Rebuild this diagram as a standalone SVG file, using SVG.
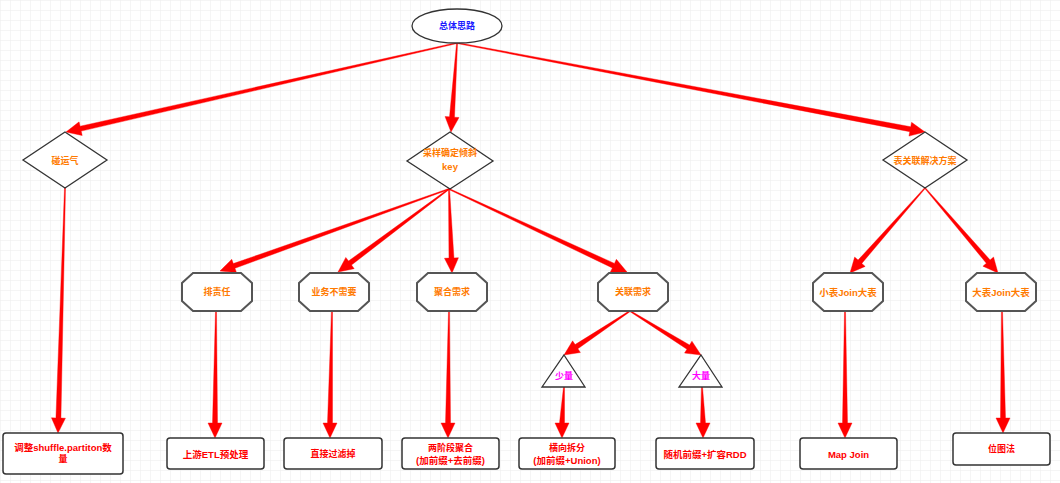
<svg xmlns="http://www.w3.org/2000/svg" xmlns:xlink="http://www.w3.org/1999/xlink" width="1060" height="483" viewBox="0 0 1060 483">
<defs>
<pattern id="grid" width="10" height="10" patternUnits="userSpaceOnUse">
<path d="M10 0 H0 V10" fill="none" stroke="#ececec" stroke-width="1"/>
</pattern>
<polygon id="oct" points="11,0 59,0 70,10 70,28 59,38 11,38 0,28 0,10"/>
</defs>
<style>
text{font-family:"Liberation Sans","Noto Sans CJK SC",sans-serif;font-size:9px;font-weight:bold;text-anchor:middle;dominant-baseline:central}
text.lat{font-size:9.5px}
.shape{fill:#fff;stroke:#333;stroke-width:1.3}
.octs{fill:#fff;stroke:#555;stroke-width:2}
.box{fill:#fff;stroke:#333;stroke-width:1.5}
.blue{fill:#1a1aff}
.org{fill:#ff7a00}
.mag{fill:#ff00ff}
.red{fill:#ff0000}
.conn polygon{fill:#ff0000;stroke:#ff0000;stroke-width:0.4;stroke-linejoin:round}
</style>
<rect width="1060" height="483" fill="#fff"/>
<rect width="1060" height="483" fill="url(#grid)"/>

<g id="connectors" class="conn">
<polygon points="456.89,42.51 80.08,126.23 79.08,121.84 66,132 82.18,135.50 81.18,131.11 457.11,43.49"/>
<polygon points="456.50,43.97 449.53,116.86 445.04,116.55 451,132 459.00,117.51 454.51,117.20 457.50,44.03"/>
<polygon points="456.91,43.49 909.79,131.66 908.95,136.08 925,132 911.57,122.32 910.73,126.74 457.09,42.51"/>
<polygon points="64.50,187.99 55.93,417.94 51.43,417.81 58,433 65.43,418.21 60.93,418.08 65.50,188.01"/>
<polygon points="448.83,188.53 233.28,263.59 231.76,259.35 220,271 236.48,272.53 234.96,268.29 449.17,189.47"/>
<polygon points="448.70,188.60 348.51,261.02 345.82,257.41 338,272 354.20,268.63 351.51,265.02 449.30,189.40"/>
<polygon points="448.50,189.02 448.96,258.10 444.46,258.26 452,273 458.46,257.76 453.96,257.92 449.50,188.98"/>
<polygon points="448.79,189.45 612.35,267.93 610.45,272.00 627,272 616.37,259.32 614.47,263.39 449.21,188.55"/>
<polygon points="924.63,187.67 858.05,260.10 854.67,257.12 850,273 865.17,266.38 861.79,263.40 925.37,188.33"/>
<polygon points="924.62,188.33 986.33,263.25 982.92,266.18 998,273 993.54,257.06 990.13,259.99 925.38,187.67"/>
<polygon points="215.5,311 212.5,423 208,423 215,438 222,423 217.5,423 216.5,311"/>
<polygon points="331.5,311 327.5,423 323,423 330,438 337,423 332.5,423 332.5,311"/>
<polygon points="448.5,311 445.5,423 441,423 448,438 455,423 450.5,423 449.5,311"/>
<polygon points="629.72,310.58 575.09,344.60 572.60,340.86 564,355 580.36,352.50 577.87,348.76 630.28,311.42"/>
<polygon points="629.74,311.43 686.93,349.23 684.56,353.05 701,355 691.94,341.15 689.57,344.98 630.26,310.58"/>
<polygon points="563.5,387 559.5,423 555,423 562,438 569,423 564.5,423 564.5,387"/>
<polygon points="701.5,387 700.5,423 696,423 703,438 710,423 705.5,423 702.5,387"/>
<polygon points="844.5,311 842.5,423 838,423 845,438 852,423 847.5,423 845.5,311"/>
<polygon points="1001.5,311 1000.5,418 996,418 1003,433 1010,418 1005.5,418 1002.5,311"/>
</g>

<g id="n-root">
<ellipse class="shape" cx="457" cy="26" rx="45" ry="17"/>
<text class="blue" x="457" y="26">总体思路</text>
</g>
<g id="n-luck">
<polygon class="shape" points="65,132 107,160 65,188 23,160"/>
<text class="org" x="65" y="161">碰运气</text>
</g>
<g id="n-sample">
<polygon class="shape" points="450,132 493,161 450,189 407,161"/>
<text class="org" x="450" y="153">采样确定倾斜</text>
<text class="org lat" x="450" y="166">key</text>
</g>
<g id="n-join">
<polygon class="shape" points="925,132 967,160 925,188 883,160"/>
<text class="org" x="925" y="161">表关联解决方案</text>
</g>

<g id="n-blame">
<use href="#oct" class="octs" x="182" y="273"/>
<text class="org" x="217" y="292">排责任</text>
</g>
<g id="n-nobiz">
<use href="#oct" class="octs" x="299" y="273"/>
<text class="org" x="334" y="292">业务不需要</text>
</g>
<g id="n-agg">
<use href="#oct" class="octs" x="417" y="273"/>
<text class="org" x="452" y="292">聚合需求</text>
</g>
<g id="n-rel">
<use href="#oct" class="octs" x="598" y="273"/>
<text class="org" x="633" y="292">关联需求</text>
</g>
<g id="n-smallbig">
<use href="#oct" class="octs" x="813" y="273"/>
<text class="org lat" x="848" y="292">小表Join大表</text>
</g>
<g id="n-bigbig">
<use href="#oct" class="octs" x="966" y="273"/>
<text class="org lat" x="1001" y="292">大表Join大表</text>
</g>

<g id="n-few">
<polygon class="shape" points="564,355 585,387 542,387"/>
<text class="mag" x="564" y="376">少量</text>
</g>
<g id="n-many">
<polygon class="shape" points="701,355 722,387 679,387"/>
<text class="mag" x="701" y="376">大量</text>
</g>

<g id="n-shuffle">
<rect class="box" x="3" y="433" width="120" height="41" rx="3"/>
<text class="red lat" x="63" y="447">调整shuffle.partiton数</text>
<text class="red" x="63" y="459">量</text>
</g>
<g id="n-etl">
<rect class="box" x="167" y="438" width="97" height="31" rx="3"/>
<text class="red lat" x="215.5" y="454">上游ETL预处理</text>
</g>
<g id="n-filter">
<rect class="box" x="284" y="438" width="98" height="31" rx="3"/>
<text class="red" x="333" y="454">直接过滤掉</text>
</g>
<g id="n-twostage">
<rect class="box" x="402" y="438" width="97" height="31" rx="3"/>
<text class="red" x="450.5" y="448">两阶段聚合</text>
<text class="red lat" x="450.5" y="460">(加前缀+去前缀)</text>
</g>
<g id="n-split">
<rect class="box" x="519" y="438" width="96" height="31" rx="3"/>
<text class="red" x="567" y="448">横向拆分</text>
<text class="red lat" x="567" y="460">(加前缀+Union)</text>
</g>
<g id="n-random">
<rect class="box" x="656" y="438" width="98" height="31" rx="3"/>
<text class="red lat" x="705" y="454">随机前缀+扩容RDD</text>
</g>
<g id="n-mapjoin">
<rect class="box" x="800" y="438" width="97" height="31" rx="3"/>
<text class="red lat" x="848.5" y="454">Map Join</text>
</g>
<g id="n-bitmap">
<rect class="box" x="953" y="433" width="97" height="32" rx="3"/>
<text class="red" x="1001.5" y="449">位图法</text>
</g>
</svg>
